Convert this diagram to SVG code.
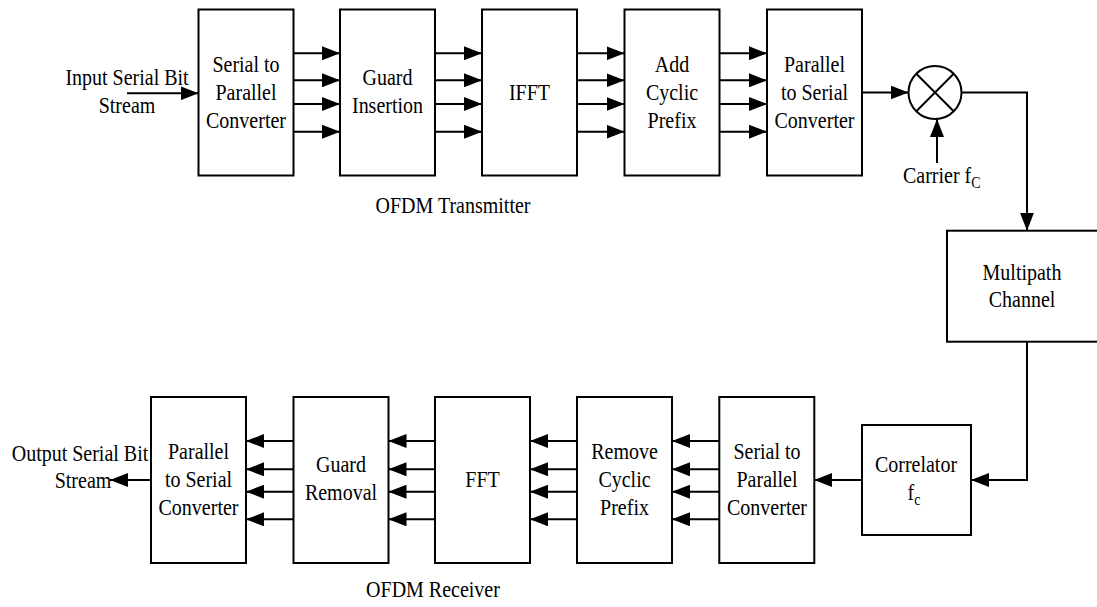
<svg xmlns="http://www.w3.org/2000/svg" width="1097" height="607" viewBox="0 0 1097 607" font-family="'Liberation Serif', serif">
  <style>
    .box { fill: #fff; stroke: #000; stroke-width: 2; }
    .wire { fill: none; stroke: #000; stroke-width: 2; }
    .lbl { font-family: 'Liberation Serif', serif; font-size: 20px; fill: #000; text-anchor: middle; }
    .left { text-anchor: start; }
    .sub { font-size: 14px; }
  </style>
  <defs>
    <marker id="arrow" markerUnits="userSpaceOnUse" viewBox="0 0 18 14" refX="18" refY="7" markerWidth="18" markerHeight="14" orient="auto">
      <path d="M0,0 L18,7 L0,14 Z" fill="#000"/>
    </marker>
  </defs>

  <rect width="1097" height="607" fill="#fff"/>

  <!-- transmitter chain; labels are set in a slightly tall serif (scaleY 1.13, 28px line pitch) -->
  <g id="tx-sp">
    <rect class="box" x="198.5" y="9.5" width="95" height="166"/>
    <text class="lbl" transform="translate(246,72) scale(1,1.13)"><tspan x="0" y="0">Serial to</tspan><tspan x="0" dy="24.8">Parallel</tspan><tspan x="0" dy="24.8">Converter</tspan></text>
  </g>
  <g id="tx-guard">
    <rect class="box" x="340" y="9.5" width="95" height="166"/>
    <text class="lbl" transform="translate(387.5,85) scale(1,1.13)"><tspan x="0" y="0">Guard</tspan><tspan x="0" dy="24.8">Insertion</tspan></text>
  </g>
  <g id="tx-ifft">
    <rect class="box" x="482" y="9.5" width="95" height="166"/>
    <text class="lbl" transform="translate(529.5,100) scale(1,1.13)">IFFT</text>
  </g>
  <g id="tx-cp">
    <rect class="box" x="624.5" y="9.5" width="95" height="166"/>
    <text class="lbl" transform="translate(672,72) scale(1,1.13)"><tspan x="0" y="0">Add</tspan><tspan x="0" dy="24.8">Cyclic</tspan><tspan x="0" dy="24.8">Prefix</tspan></text>
  </g>
  <g id="tx-ps">
    <rect class="box" x="767" y="9.5" width="95" height="166"/>
    <text class="lbl" transform="translate(814.5,72) scale(1,1.13)"><tspan x="0" y="0">Parallel</tspan><tspan x="0" dy="24.8">to Serial</tspan><tspan x="0" dy="24.8">Converter</tspan></text>
  </g>
  <g id="mixer">
    <circle class="wire" cx="935" cy="92.5" r="26.5"/>
    <path class="wire" d="M916.3,73.8 L953.7,111.2 M953.7,73.8 L916.3,111.2"/>
  </g>
  <g id="input-label">
    <text class="lbl" transform="translate(127,85) scale(1,1.13)"><tspan x="0" y="0">Input Serial Bit</tspan><tspan x="0" dy="24.8">Stream</tspan></text>
  </g>
  <g id="carrier-label">
    <text class="lbl left" transform="translate(903,183) scale(1,1.13)">Carrier f<tspan class="sub" dy="4">C</tspan></text>
  </g>
  <g id="tx-title">
    <text class="lbl" transform="translate(453,213) scale(1,1.13)">OFDM Transmitter</text>
  </g>

  <!-- channel -->
  <g id="channel">
    <rect class="box" x="947" y="230.7" width="160" height="111"/>
    <text class="lbl" transform="translate(1022,280) scale(1,1.13)"><tspan x="0" y="0">Multipath</tspan><tspan x="0" dy="23.9">Channel</tspan></text>
  </g>
  <g id="correlator">
    <rect class="box" x="862" y="425" width="109" height="110"/>
    <text class="lbl" transform="translate(916,472) scale(1,1.13)">Correlator</text>
    <text class="lbl" transform="translate(914,500) scale(1,1.13)">f<tspan class="sub" dy="4">c</tspan></text>
  </g>

  <!-- receiver chain -->
  <g id="rx-ps">
    <rect class="box" x="151" y="397" width="95" height="166"/>
    <text class="lbl" transform="translate(198.5,459) scale(1,1.13)"><tspan x="0" y="0">Parallel</tspan><tspan x="0" dy="24.8">to Serial</tspan><tspan x="0" dy="24.8">Converter</tspan></text>
  </g>
  <g id="rx-guard">
    <rect class="box" x="293.5" y="397" width="95" height="166"/>
    <text class="lbl" transform="translate(341,472) scale(1,1.13)"><tspan x="0" y="0">Guard</tspan><tspan x="0" dy="24.8">Removal</tspan></text>
  </g>
  <g id="rx-fft">
    <rect class="box" x="435" y="397" width="95" height="166"/>
    <text class="lbl" transform="translate(482.5,487) scale(1,1.13)">FFT</text>
  </g>
  <g id="rx-cp">
    <rect class="box" x="577" y="397" width="95" height="166"/>
    <text class="lbl" transform="translate(624.5,459) scale(1,1.13)"><tspan x="0" y="0">Remove</tspan><tspan x="0" dy="24.8">Cyclic</tspan><tspan x="0" dy="24.8">Prefix</tspan></text>
  </g>
  <g id="rx-sp">
    <rect class="box" x="719.3" y="397" width="95" height="166"/>
    <text class="lbl" transform="translate(767,459) scale(1,1.13)"><tspan x="0" y="0">Serial to</tspan><tspan x="0" dy="24.8">Parallel</tspan><tspan x="0" dy="24.8">Converter</tspan></text>
  </g>
  <g id="output-label">
    <text class="lbl" transform="translate(80,461) scale(1,1.13)">Output Serial Bit</text>
    <text class="lbl" transform="translate(83,488) scale(1,1.13)">Stream</text>
  </g>
  <g id="rx-title">
    <text class="lbl" transform="translate(433,597) scale(1,1.13)">OFDM Receiver</text>
  </g>

  <!-- connectors -->
  <g id="connectors">
    <path class="wire" marker-end="url(#arrow)" d="M127,93.3 H198.5"/>

    <path class="wire" marker-end="url(#arrow)" d="M293.5,53.3 H340"/>
    <path class="wire" marker-end="url(#arrow)" d="M293.5,80.3 H340"/>
    <path class="wire" marker-end="url(#arrow)" d="M293.5,104 H340"/>
    <path class="wire" marker-end="url(#arrow)" d="M293.5,131.7 H340"/>

    <path class="wire" marker-end="url(#arrow)" d="M435,53.3 H482"/>
    <path class="wire" marker-end="url(#arrow)" d="M435,80.3 H482"/>
    <path class="wire" marker-end="url(#arrow)" d="M435,104 H482"/>
    <path class="wire" marker-end="url(#arrow)" d="M435,131.7 H482"/>

    <path class="wire" marker-end="url(#arrow)" d="M577,53.3 H624.5"/>
    <path class="wire" marker-end="url(#arrow)" d="M577,80.3 H624.5"/>
    <path class="wire" marker-end="url(#arrow)" d="M577,104 H624.5"/>
    <path class="wire" marker-end="url(#arrow)" d="M577,131.7 H624.5"/>

    <path class="wire" marker-end="url(#arrow)" d="M719.5,53.3 H767"/>
    <path class="wire" marker-end="url(#arrow)" d="M719.5,80.3 H767"/>
    <path class="wire" marker-end="url(#arrow)" d="M719.5,104 H767"/>
    <path class="wire" marker-end="url(#arrow)" d="M719.5,131.7 H767"/>

    <path class="wire" marker-end="url(#arrow)" d="M862,92.5 H908.5"/>
    <path class="wire" marker-end="url(#arrow)" d="M937,163 V119"/>
    <path class="wire" marker-end="url(#arrow)" d="M961.5,92.5 H1027 V230.7"/>
    <path class="wire" marker-end="url(#arrow)" d="M1027,341.7 V480 H971"/>
    <path class="wire" marker-end="url(#arrow)" d="M862,480 H814.3"/>

    <path class="wire" marker-end="url(#arrow)" d="M719.3,441 H672"/>
    <path class="wire" marker-end="url(#arrow)" d="M719.3,469.3 H672"/>
    <path class="wire" marker-end="url(#arrow)" d="M719.3,491.7 H672"/>
    <path class="wire" marker-end="url(#arrow)" d="M719.3,519.3 H672"/>

    <path class="wire" marker-end="url(#arrow)" d="M577,441 H530"/>
    <path class="wire" marker-end="url(#arrow)" d="M577,469.3 H530"/>
    <path class="wire" marker-end="url(#arrow)" d="M577,491.7 H530"/>
    <path class="wire" marker-end="url(#arrow)" d="M577,519.3 H530"/>

    <path class="wire" marker-end="url(#arrow)" d="M435,441 H388.5"/>
    <path class="wire" marker-end="url(#arrow)" d="M435,469.3 H388.5"/>
    <path class="wire" marker-end="url(#arrow)" d="M435,491.7 H388.5"/>
    <path class="wire" marker-end="url(#arrow)" d="M435,519.3 H388.5"/>

    <path class="wire" marker-end="url(#arrow)" d="M293.5,441 H246"/>
    <path class="wire" marker-end="url(#arrow)" d="M293.5,469.3 H246"/>
    <path class="wire" marker-end="url(#arrow)" d="M293.5,491.7 H246"/>
    <path class="wire" marker-end="url(#arrow)" d="M293.5,519.3 H246"/>

    <path class="wire" marker-end="url(#arrow)" d="M151,480 H110"/>
  </g>
</svg>
